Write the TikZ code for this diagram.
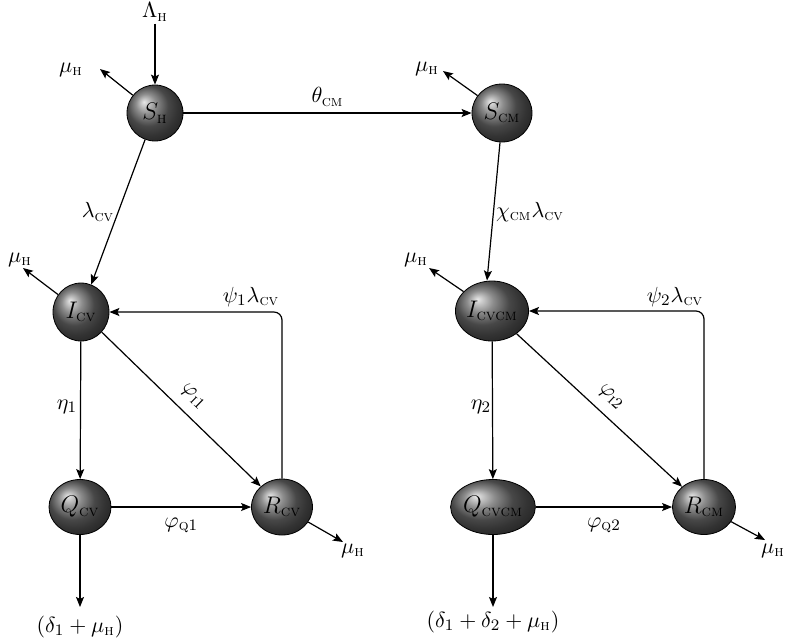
\documentclass[tikz,border=0pt]{standalone}
\usepackage{amsmath}
\usetikzlibrary{shapes.geometric,arrows.meta}
\newcommand\sbs[1]{\text{\textsc{#1}}}
\begin{document}
\begin{tikzpicture}[x=0.5pt,y=-0.5pt,
  ball/.style={ellipse, shading=ball, ball color=black!60, draw=black, line width=0.4pt, inner sep=0pt, font=\large},
  arr/.style={-{Stealth[length=5pt,width=4pt,inset=1pt]}, line width=0.6pt},
  lbl/.style={inner sep=1pt, font=\fontsize{11}{13}\selectfont}]
\useasboundingbox (0,0) rectangle (787,639);

% compartments
\node[ball, minimum width=28pt, minimum height=28pt] (SH) at (155,113) {$S_{\sbs{h}}$};
\node[ball, minimum width=30pt, minimum height=29pt] (SCM) at (502,113) {$S_{\sbs{cm}}$};
\node[ball, minimum width=28pt, minimum height=29pt] (ICV) at (81,312) {$I_{\sbs{cv}}$};
\node[ball, minimum width=35.5pt, minimum height=30pt] (ICVCM) at (492,311) {$I_{\sbs{cvcm}}$};
\node[ball, minimum width=31pt, minimum height=27.5pt] (QCV) at (80,507) {$Q_{\sbs{cv}}$};
\node[ball, minimum width=30.5pt, minimum height=28pt] (RCV) at (282,507) {$R_{\sbs{cv}}$};
\node[ball, minimum width=41pt, minimum height=27.5pt] (QCVCM) at (493,507) {$Q_{\sbs{cvcm}}$};
\node[ball, minimum width=31.5pt, minimum height=27.5pt] (RCM) at (704,507) {$R_{\sbs{cm}}$};

% outer labels
\node[lbl] (Lam) at (155,12) {$\Lambda_{\sbs{h}}$};
\node[lbl] (mu1) at (71,70) {$\mu_{\sbs{h}}$};
\node[lbl] (mu2) at (427,69) {$\mu_{\sbs{h}}$};
\node[lbl] (mu3) at (20,260) {$\mu_{\sbs{h}}$};
\node[lbl] (mu4) at (416,260) {$\mu_{\sbs{h}}$};
\node[lbl] (mu5) at (353,551) {$\mu_{\sbs{h}}$};
\node[lbl] (mu6) at (773,551) {$\mu_{\sbs{h}}$};
\node[lbl] (out1) at (80,627) {$(\delta_1+\mu_{\sbs{h}})$};
\node[lbl] (out2) at (493,622) {$(\delta_1+\delta_2+\mu_{\sbs{h}})$};

\coordinate (t1) at (100,69);
\coordinate (t2) at (443,71);
\coordinate (t3) at (23,268);
\coordinate (t4) at (429,268);
\coordinate (t5) at (343,542);
\coordinate (t6) at (765,540);
\coordinate (t7) at (80,607);
\coordinate (t8) at (493,607);

% arrows
\draw[arr] (Lam) -- (SH);
\draw[arr] (SH) -- (t1);
\draw[arr] (SCM) -- (t2);
\draw[arr] (ICV) -- (t3);
\draw[arr] (ICVCM) -- (t4);
\draw[arr] (RCV) -- (t5);
\draw[arr] (RCM) -- (t6);
\draw[arr] (QCV) -- (t7);
\draw[arr] (QCVCM) -- (t8);

\draw[arr] (SH) -- node[lbl, above=2pt] {$\theta_{\sbs{cm}}$} (SCM);
\draw[arr] (SH) -- (ICV);
\node[lbl] at (98,212) {$\lambda_{\sbs{cv}}$};
\draw[arr] ([xshift=-1pt]SCM.south) -- ([xshift=-2.5pt]ICVCM.north);
\node[lbl] at (530,212) {$\chi_{\sbs{cm}}\lambda_{\sbs{cv}}$};

\draw[arr] (ICV) -- (QCV);
\node[lbl] at (67,407) {$\eta_1$};
\draw[arr] (ICVCM) -- (QCVCM);
\node[lbl] at (481,407) {$\eta_2$};

\draw[arr] (ICV) -- node[lbl, sloped, above=4pt, pos=0.5] {$\varphi_{\sbs{i}1}$} (RCV);
\draw[arr] (ICVCM) -- node[lbl, sloped, above=4pt, pos=0.5] {$\varphi_{\sbs{i}2}$} (RCM);

\draw[arr] (QCV) -- node[lbl, below=4pt] {$\varphi_{\sbs{q}1}$} (RCV);
\draw[arr] (QCVCM) -- node[lbl, below=4pt] {$\varphi_{\sbs{q}2}$} (RCM);

\draw[arr, rounded corners=4pt] (RCV.north) |- (ICV.east);
\node[lbl] at (251,297) {$\psi_1\lambda_{\sbs{cv}}$};
\draw[arr, rounded corners=4pt] (RCM.north) |- (ICVCM.east);
\node[lbl] at (675,297) {$\psi_2\lambda_{\sbs{cv}}$};
\end{tikzpicture}
\end{document}
